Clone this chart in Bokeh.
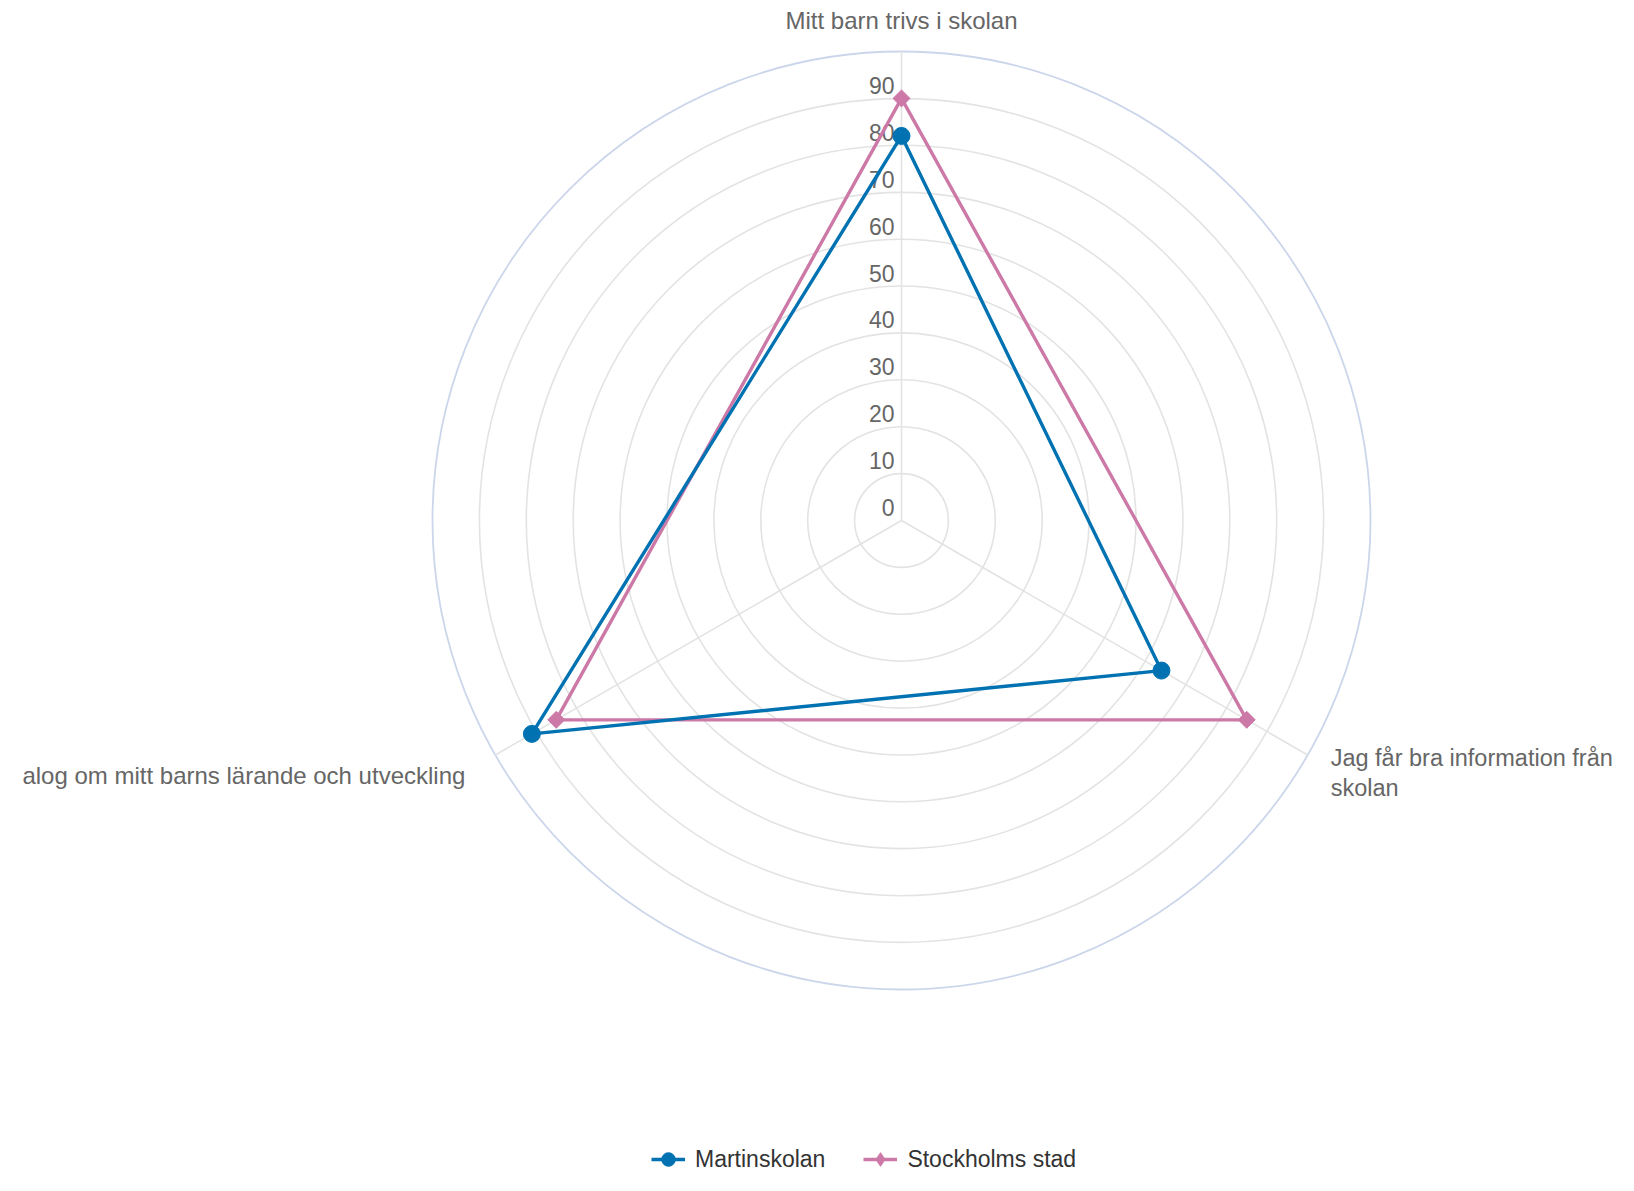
import numpy as np
from bokeh.plotting import figure
from bokeh.models import Range1d, Legend, LegendItem
from bokeh.core.properties import value
from bokeh.embed import file_html
from bokeh.resources import INLINE

# ---- data ----
categories = ["Mitt barn trivs i skolan",
              "Jag får bra information från\nskolan",
              "alog om mitt barns lärande och utveckling"]
martinskolan = [82, 64, 91]
stockholm = [90, 85, 85]
ticks = [0, 10, 20, 30, 40, 50, 60, 70, 80, 90]
r_max = 100
series_names = ["Martinskolan", "Stockholms stad"]

# ---- layout ----
W, H = 1618, 1175
PX = 4.69            # pixels per value unit
CX, CY = 901, 520    # centre in canvas pixels
FONT = "Liberation Sans"

p = figure(width=W, height=H, output_backend="svg", toolbar_location=None,
           x_range=Range1d(-CX / PX, (W - CX) / PX),
           y_range=Range1d(-(H - CY) / PX, CY / PX),
           x_axis_type=None, y_axis_type=None, min_border=0,
           background_fill_color="white", border_fill_color="white")
p.outline_line_color = None
p.grid.visible = False

n = len(categories)
angles = np.pi / 2 - np.arange(n) * 2 * np.pi / n

# grid circles
for t in ticks[1:]:
    p.circle(x=0, y=0, radius=t, fill_color=None, line_color="#e3e3e3", line_width=1.6)
p.circle(x=0, y=0, radius=r_max, fill_color=None, line_color="#ccd6eb", line_width=1.8)

# radial axes
p.segment(x0=np.zeros(n), y0=np.zeros(n),
          x1=r_max * np.cos(angles), y1=r_max * np.sin(angles),
          line_color="#e3e3e3", line_width=1.6)

# tick labels
p.text(x=np.zeros(len(ticks)), y=ticks, text=[str(t) for t in ticks],
       text_align="right", text_baseline="alphabetic", x_offset=-7, y_offset=-13,
       text_font=value(FONT), text_font_size="23px", text_color="#666666")

# category labels
lab_x = r_max * np.cos(angles)
lab_y = r_max * np.sin(angles)
aligns = ["center", "left", "right"]
baselines = ["alphabetic", "middle", "middle"]
xoffs = [0, 23, -30]
yoffs = [-31, 18, 20]
sizes = ["24px", "23.5px", "24px"]
for i in range(n):
    p.text(x=[lab_x[i]], y=[lab_y[i]], text=[categories[i]],
           text_align=aligns[i], text_baseline=baselines[i],
           x_offset=xoffs[i], y_offset=yoffs[i], text_line_height=1.18,
           text_font=value(FONT), text_font_size=sizes[i], text_color="#666666")

def xy(vals):
    v = np.array(vals, dtype=float)
    return v * np.cos(angles), v * np.sin(angles)

blue = "#0072b2"
pink = "#cc79a7"

xs_s, ys_s = xy(stockholm)
xs_m, ys_m = xy(martinskolan)

l_s = p.line(np.append(xs_s, xs_s[0]), np.append(ys_s, ys_s[0]), line_color=pink, line_width=3.4)
l_m = p.line(np.append(xs_m, xs_m[0]), np.append(ys_m, ys_m[0]), line_color=blue, line_width=3.4)
m_s = p.scatter(xs_s, ys_s, marker="square", angle=np.pi / 4, size=12,
                fill_color=pink, line_color=pink)
m_m = p.scatter(xs_m, ys_m, marker="circle", size=17, fill_color=blue, line_color=blue)

# zero-size diamond on the same points: invisible in the plot, gives the legend its diamond
lg_s = p.scatter(xs_s, ys_s, marker="diamond", size=0, fill_color=pink, line_color=pink)

legend = Legend(items=[LegendItem(label=series_names[0], renderers=[l_m, m_m]),
                       LegendItem(label=series_names[1], renderers=[l_s, lg_s])],
                orientation="horizontal", location=(651, -4),
                glyph_width=34, glyph_height=40, label_height=40, label_standoff=10,
                spacing=38, padding=0, margin=0,
                border_line_color=None, background_fill_alpha=0,
                label_text_font=FONT, label_text_font_size="23px", label_text_color="#333333")
p.add_layout(legend)

open("out.html", "w").write(file_html(p, INLINE))
